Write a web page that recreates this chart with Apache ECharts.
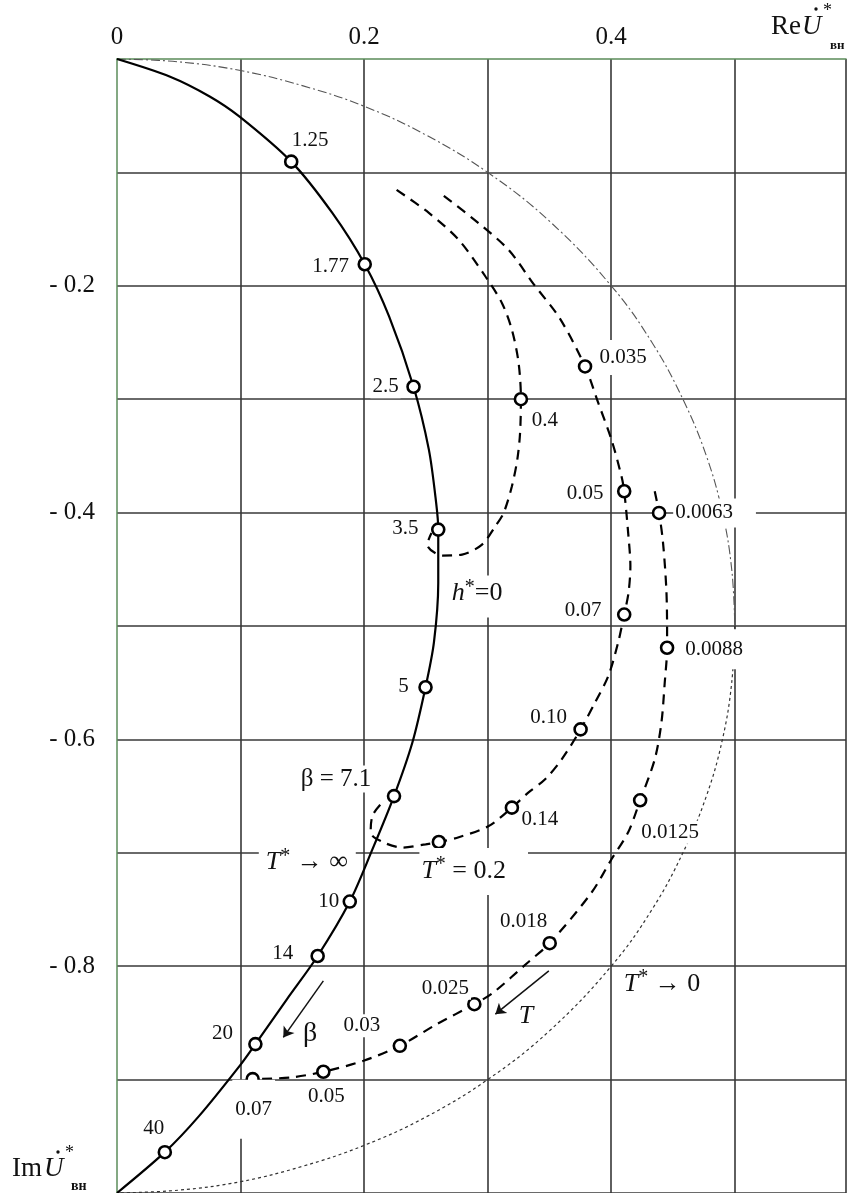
<!DOCTYPE html>
<html>
<head>
<meta charset="utf-8">
<script src="https://cdn.jsdelivr.net/npm/echarts@6/dist/echarts.min.js"></script>
<style>
  html, body { margin: 0; padding: 0; background: #fff; }
  #chart { width: 849px; height: 1193px; }
</style>
</head>
<body>
<div id="chart"></div>
<script>
// ---- tick labels ----
const reTicks = [0, 0.2, 0.4];
const reTickLabels = ['0', '0.2', '0.4'];
const imTicks = [-0.2, -0.4, -0.6, -0.8];
const imTickLabels = ['- 0.2', '- 0.4', '- 0.6', '- 0.8'];

// ---- loci: [Re, Im] or [Re, Im, marker label] ----
// h* = 0, T* -> infinity, marked by beta
const betaCurve = [
  [0, 0], [0.043, -0.0156], [0.075, -0.033], [0.0992, -0.0508],
  [0.141, -0.0905, '1.25'], [0.1744, -0.136],
  [0.2005, -0.181, '1.77'], [0.2202, -0.227],
  [0.240, -0.289, '2.5'], [0.2524, -0.3445], [0.2583, -0.3915],
  [0.260, -0.415, '3.5'], [0.260, -0.462], [0.2565, -0.5145],
  [0.2497, -0.554, '5'], [0.239, -0.603],
  [0.2242, -0.650, 'β = 7.1'], [0.2067, -0.697],
  [0.1884, -0.743, '10'], [0.1624, -0.791, '14'], [0.1376, -0.829],
  [0.112, -0.8687, '20'], [0.0999, -0.887], [0.0665, -0.932],
  [0.0387, -0.964, '40'], [0, -1.0]
];

// dashed locus ending at beta = 3.5
const innerCurve = [
  [0.2263, -0.1154], [0.2524, -0.1357], [0.2766, -0.1595], [0.2982, -0.1918],
  [0.3116, -0.2153], [0.3196, -0.2388], [0.3250, -0.2678],
  [0.3269, -0.3000, '0.4'], [0.3262, -0.3300], [0.3240, -0.3530], [0.3196, -0.3768],
  [0.3129, -0.4003], [0.3062, -0.4120], [0.2954, -0.4282], [0.2793, -0.4370],
  [0.2632, -0.4379], [0.2511, -0.4282], [0.2545, -0.4180]
];

// dashed locus T* = 0.2, ending at beta = 7.1
const middleCurve = [
  [0.2645, -0.1207], [0.2927, -0.1448], [0.3169, -0.1683], [0.3372, -0.1985], [0.3585, -0.2290],
  [0.3788, -0.2711, '0.035'], [0.3895, -0.3033], [0.4002, -0.3357], [0.4083, -0.3680],
  [0.4105, -0.3812, '0.05'], [0.4137, -0.4179], [0.4155, -0.4473], [0.4140, -0.4705],
  [0.4105, -0.4899, '0.07'], [0.4056, -0.5145], [0.3976, -0.5442], [0.3869, -0.5674],
  [0.3752, -0.5912, '0.10'], [0.3599, -0.6176], [0.3465, -0.6352], [0.3331, -0.6467],
  [0.3196, -0.6602, '0.14'], [0.3008, -0.6764], [0.2766, -0.6863],
  [0.2605, -0.6905, ''], [0.2498, -0.6925], [0.2309, -0.6954], [0.2161, -0.6910],
  [0.2053, -0.6822], [0.2067, -0.6676], [0.2133, -0.6573], [0.2174, -0.6544]
];

// outer dashed locus
const outerCurve = [
  [0.4352, -0.3812], [0.4387, -0.4003, '0.0063'], [0.4419, -0.4264], [0.4446, -0.4678],
  [0.4452, -0.5031], [0.4452, -0.5192, '0.0088'], [0.4433, -0.5498], [0.4406, -0.5853],
  [0.4352, -0.6176], [0.4234, -0.6537, '0.0125'], [0.4137, -0.6819], [0.4002, -0.7057],
  [0.3841, -0.7350], [0.3502, -0.7797, '0.018'], [0.3325, -0.7967], [0.3047, -0.8231],
  [0.2892, -0.8335, '0.025'], [0.2590, -0.8510], [0.2289, -0.8702, '0.03'], [0.1995, -0.8834],
  [0.1670, -0.8931, '0.05'], [0.1407, -0.8981], [0.1098, -0.8996, '0.07']
];

// T* -> 0 boundary, upper (dash-dot) and lower (dotted) halves
const boundaryUpper = [
  [0, 0], [0.05, -0.0025], [0.1, -0.0102], [0.15, -0.0235], [0.2, -0.0417], [0.25, -0.067],
  [0.3, -0.1], [0.35, -0.143], [0.4, -0.2], [0.433, -0.25], [0.458, -0.3], [0.477, -0.35],
  [0.490, -0.4], [0.4975, -0.45], [0.5, -0.5]
];
const boundaryLower = [
  [0.5, -0.5], [0.4975, -0.55], [0.490, -0.6], [0.477, -0.65], [0.458, -0.7], [0.433, -0.75],
  [0.4, -0.8], [0.35, -0.857], [0.3, -0.9], [0.25, -0.933], [0.2, -0.958], [0.15, -0.9765],
  [0.1, -0.99], [0.05, -0.9975], [0, -1.0]
];

// direction arrows (increasing beta, increasing T)
const arrowSegments = [
  [[0.1670, -0.8129], [0.1346, -0.8628]],
  [[0.3495, -0.8041], [0.3062, -0.8423]]
];

// free annotations
const noteTexts = ['h*=0', 'T* → ∞', 'T* = 0.2', 'T* → 0', 'β', 'T'];
const notePoints = [
  [0.2914, -0.4714], [0.1536, -0.7084], [0.2806, -0.716],
  [0.4411, -0.8159], [0.1562, -0.8599], [0.331, -0.8438]
];

// ---- styling ----
const serif = "'Liberation Serif', 'DejaVu Serif', serif";
const ink = '#111';

// label centre relative to marker centre, px
const labelOffset = {
  beta: { '1.25': [19, -21], '1.77': [-34, 2], '2.5': [-28, 0], '3.5': [-33, -1], '5': [-22, -1],
          'β = 7.1': [-58, -17], '10': [-21, 0], '14': [-35, -3], '20': [-33, -11], '40': [-11, -24] },
  inner: { '0.4': [24, 21] },
  middle: { '0.035': [38, -9], '0.05': [-39, 2], '0.07': [-41, -4], '0.10': [-32, -12], '0.14': [28, 12] },
  outer: { '0.0063': [45, 0], '0.0088': [47, 2], '0.0125': [30, 32], '0.018': [-26, -22],
           '0.025': [-29, -16], '0.03': [-38, -20], '0.05': [3, 25], '0.07': [1, 29] }
};
const labelPadding = {
  middle: { '0.035': [7, 3, 7, 3] },
  outer: { '0.0063': [4, 23, 4, 2], '0.0088': [10, 4, 9, 4], '0.07': [18, 3, 20, 3] }
};
const notePadding = [[2, 4, 8, 4], [4, 8, 4, 7], [7, 22, 8, 2], [0, 0, 0, 0], [0, 0, 0, 0], [0, 0, 0, 0]];
const noteBg = ['#fff', '#fff', '#fff', 'transparent', 'transparent', 'transparent'];

const richStyles = {
  i: { fontFamily: serif, fontSize: 26, lineHeight: 32, fontStyle: 'italic', color: ink },
  s: { fontFamily: serif, fontSize: 20, color: ink, verticalAlign: 'top' },
  n: { fontFamily: serif, fontSize: 26, lineHeight: 32, color: ink },
  g: { fontFamily: serif, fontSize: 28, color: ink }
};

function richNote(t) {
  if (t === 'β') return '{g|β}';
  if (t.length === 1) return '{i|' + t + '}';
  const star = t.indexOf('*');
  return '{i|' + t.slice(0, star) + '}{s|*}{n|' + t.slice(star + 1) + '}';
}

function curveSeries(curve, lineStyle, smooth, z) {
  return {
    type: 'line', silent: true, z: z, smooth: smooth,
    showSymbol: false, symbol: 'none',
    lineStyle: lineStyle,
    data: curve.map(p => [p[0], p[1]])
  };
}

function markerSeries(key, curve) {
  const pts = curve.filter(p => p.length > 2);
  return {
    type: 'scatter', silent: true, z: 6,
    symbol: 'circle', symbolSize: 12,
    itemStyle: { color: '#fff', borderColor: '#000', borderWidth: 2.6, opacity: 1 },
    label: {
      show: true, position: 'inside', formatter: '{b}',
      fontFamily: serif, fontSize: 21, color: ink, textBorderWidth: 0, backgroundColor: '#fff'
    },
    data: pts.map(p => {
      const off = labelOffset[key][p[2]] || [0, 0];
      const pad = (labelPadding[key] && labelPadding[key][p[2]]) || [1, 2, 1, 2];
      return {
        name: p[2],
        value: [p[0], p[1]],
        label: {
          show: p[2] !== '',
          padding: pad,
          fontSize: p[2].startsWith('β') ? 25 : 21,
          offset: [off[0] + (pad[1] - pad[3]) / 2, off[1] + (pad[2] - pad[0]) / 2]
        }
      };
    })
  };
}

const solid = { color: '#000', width: 2.2 };
const dashed = { color: '#000', width: 2.2, type: [10, 7] };

const option = {
  animation: false,
  backgroundColor: '#fff',
  grid: { left: 117, top: 59, width: 732, height: 1135, containLabel: false },
  xAxis: {
    type: 'value', position: 'top', min: 0, max: 0.59, interval: 0.1,
    axisLine: { show: true, onZero: false, lineStyle: { color: '#5b8c5a', width: 1.5 } },
    axisTick: { show: false },
    axisLabel: {
      margin: 9, fontFamily: serif, fontSize: 25, color: ink,
      formatter: v => {
        const i = reTicks.findIndex(t => Math.abs(t - v) < 1e-6);
        return i >= 0 ? reTickLabels[i] : '';
      }
    },
    splitLine: { show: true, showMinLine: false, lineStyle: { color: '#383838', width: 1.6 } }
  },
  yAxis: {
    type: 'value', min: -1, max: 0, interval: 0.1,
    axisLine: { show: true, onZero: false, lineStyle: { color: '#5b8c5a', width: 1.5 } },
    axisTick: { show: false },
    axisLabel: {
      margin: 22, fontFamily: serif, fontSize: 25, color: ink,
      formatter: v => {
        const i = imTicks.findIndex(t => Math.abs(t - v) < 1e-6);
        return i >= 0 ? imTickLabels[i] : '';
      }
    },
    splitLine: { show: true, showMaxLine: false, lineStyle: { color: '#383838', width: 1.6 } }
  },
  series: [
    curveSeries(boundaryUpper, { color: '#555', width: 1.1, type: [9, 3, 2, 3] }, 0.4, 2),
    curveSeries(boundaryLower, { color: '#333', width: 1.2, type: [3, 3] }, 0.4, 2),
    curveSeries(betaCurve, solid, 0.3, 3),
    curveSeries(innerCurve, dashed, 0.3, 3),
    curveSeries(middleCurve, dashed, 0.3, 3),
    curveSeries(outerCurve, dashed, 0.3, 3),
    {
      type: 'lines', coordinateSystem: 'cartesian2d', silent: true, z: 4,
      symbol: ['none', 'arrow'], symbolSize: 10,
      lineStyle: { color: ink, width: 1.5, opacity: 1 },
      data: arrowSegments.map(s => ({ coords: s }))
    },
    markerSeries('beta', betaCurve),
    markerSeries('inner', innerCurve),
    markerSeries('middle', middleCurve),
    markerSeries('outer', outerCurve),
    {
      type: 'scatter', silent: true, z: 7, symbolSize: 0,
      itemStyle: { opacity: 1 },
      label: { show: true, position: 'inside', color: ink, textBorderWidth: 0, rich: richStyles },
      data: notePoints.map((p, k) => {
        const pad = notePadding[k];
        return {
          value: p,
          label: {
            formatter: richNote(noteTexts[k]),
            padding: pad,
            backgroundColor: noteBg[k],
            offset: [(pad[1] - pad[3]) / 2, (pad[2] - pad[0]) / 2]
          }
        };
      })
    }
  ],
  graphic: [
    // Re U̇* (вн) at the end of the real axis
    { type: 'text', x: 771, y: 40, silent: true,
      style: { text: 'Re', font: '27px ' + serif, fill: ink, verticalAlign: 'bottom' } },
    { type: 'text', x: 802, y: 40, silent: true,
      style: { text: 'U', font: 'italic 27px ' + serif, fill: ink, verticalAlign: 'bottom' } },
    { type: 'circle', silent: true, shape: { cx: 816, cy: 9, r: 1.7 }, style: { fill: ink } },
    { type: 'text', x: 823, y: 2, silent: true,
      style: { text: '*', font: '18px ' + serif, fill: ink, verticalAlign: 'top' } },
    { type: 'text', x: 830, y: 52, silent: true,
      style: { text: 'вн', font: 'bold 13px ' + serif, fill: ink, verticalAlign: 'bottom' } },

    // Im U̇* (вн) at the end of the imaginary axis
    { type: 'text', x: 12, y: 1182, silent: true,
      style: { text: 'Im', font: '27px ' + serif, fill: ink, verticalAlign: 'bottom' } },
    { type: 'text', x: 44, y: 1182, silent: true,
      style: { text: 'U', font: 'italic 27px ' + serif, fill: ink, verticalAlign: 'bottom' } },
    { type: 'circle', silent: true, shape: { cx: 58, cy: 1152, r: 1.7 }, style: { fill: ink } },
    { type: 'text', x: 65, y: 1144, silent: true,
      style: { text: '*', font: '18px ' + serif, fill: ink, verticalAlign: 'top' } },
    { type: 'text', x: 71, y: 1193, silent: true,
      style: { text: 'вн', font: 'bold 14px ' + serif, fill: ink, verticalAlign: 'bottom' } }
  ]
};

const chart = echarts.init(document.getElementById('chart'), null, { renderer: 'canvas' });
chart.setOption(option);
</script>
</body>
</html>
